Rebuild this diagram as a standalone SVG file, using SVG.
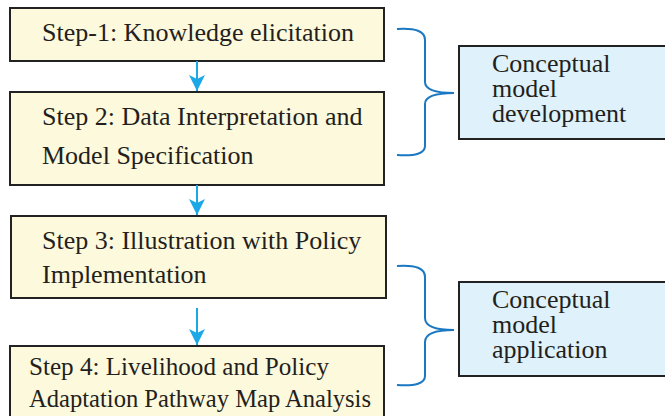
<svg xmlns="http://www.w3.org/2000/svg" width="665" height="416" viewBox="0 0 665 416">
<defs>
<style>
.step{fill:#fdf9dc;stroke:#222;stroke-width:2}
.out{fill:#dff1fa;stroke:#222;stroke-width:2}
.t{font-family:'Liberation Serif',Tinos,'Times New Roman',Times,serif;font-size:26px;fill:#231f20}
.s{font-size:25px}
.arr{stroke:#1aa8e6;stroke-width:2;fill:none}
.brace{stroke:#1a78c2;stroke-width:2;fill:none}
</style>
<marker id="ah" markerWidth="18" markerHeight="16" refX="16" refY="8" orient="auto" markerUnits="userSpaceOnUse">
<path d="M0,0 L16,8 L0,16 L4,8 Z" fill="#1aa8e6"/>
</marker>
</defs>
<rect width="665" height="416" fill="#fff"/>
<g id="step1">
<rect class="step" x="10" y="8" width="374" height="53"/>
<text class="t" x="42" y="40.5">Step-1: Knowledge elicitation</text>
</g>
<g id="step2">
<rect class="step" x="10" y="92" width="374" height="93"/>
<text class="t" x="42" y="125">Step 2: Data Interpretation and</text>
<text class="t" x="42" y="164">Model Specification</text>
</g>
<g id="step3">
<rect class="step" x="11" y="216" width="375" height="82"/>
<text class="t" x="42" y="249">Step 3: Illustration with Policy</text>
<text class="t" x="42" y="283">Implementation</text>
</g>
<g id="step4">
<rect class="step" x="10" y="346" width="374" height="80"/>
<text class="t s" x="29" y="375" textLength="300" lengthAdjust="spacingAndGlyphs">Step 4: Livelihood and Policy</text>
<text class="t s" x="29" y="407" textLength="342" lengthAdjust="spacingAndGlyphs">Adaptation Pathway Map Analysis</text>
</g>
<g id="dev">
<rect class="out" x="459" y="46" width="215" height="93"/>
<text class="t" x="492" y="72">Conceptual</text>
<text class="t" x="492" y="97">model</text>
<text class="t" x="492" y="122">development</text>
</g>
<g id="app">
<rect class="out" x="459" y="282" width="215" height="94"/>
<text class="t" x="492" y="308">Conceptual</text>
<text class="t" x="492" y="333">model</text>
<text class="t" x="492" y="358">application</text>
</g>
<g id="connectors">
<path class="arr" d="M197,61 V91" marker-end="url(#ah)"/>
<path class="arr" d="M197,185 V215" marker-end="url(#ah)"/>
<path class="arr" d="M197,308 V345" marker-end="url(#ah)"/>
<path class="brace" d="M397,29 Q425,27 425,40 V82 Q425,93 454,93 Q425,93 425,104 V146 Q425,157 397,155"/>
<path class="brace" d="M397,266 Q425,264 425,277 V318 Q425,330 454,330 Q425,330 425,342 V376 Q425,387 397,385"/>
</g>
</svg>
